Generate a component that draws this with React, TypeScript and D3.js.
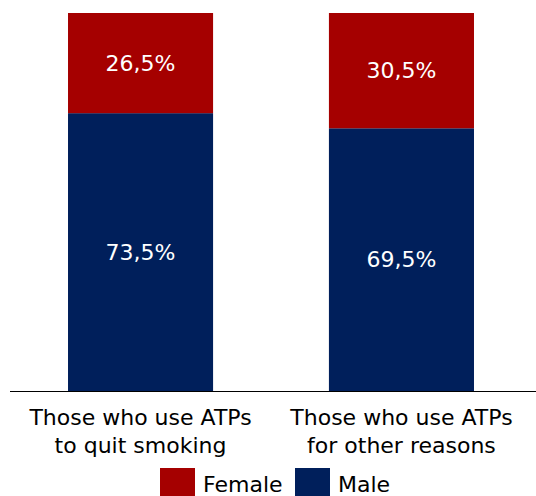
import * as d3 from 'd3'
import * as React from 'react'

// Chart data
const categories: string[][] = [
  ['Those who use ATPs', 'to quit smoking'],
  ['Those who use ATPs', 'for other reasons'],
]
const maleValues: number[] = [73.5, 69.5]
const femaleValues: number[] = [26.5, 30.5]
const seriesNames: string[] = ['Female', 'Male']
const seriesColors: string[] = ['#A50000', '#001F5B']

const width = 536
const height = 496
const fontFamily = '"DejaVu Sans", Verdana, sans-serif'
const fmt = (v: number) => d3.format('.1f')(v).replace('.', ',') + '%'

export default function App() {
  const x = d3.scaleBand<number>()
    .domain(d3.range(categories.length))
    .range([8, 534])
    .paddingInner(0.444)
    .paddingOuter(0.23)
  const y = d3.scaleLinear().domain([0, 100]).range([391, 13])

  const rows = categories.map((c, i) => ({
    label: c,
    male: maleValues[i],
    female: femaleValues[i],
  }))

  return (
    <svg width={width} height={height}
      style={{ position: 'absolute', left: 0, top: 0, fontFamily }}>
      {rows.map((d, i) => {
        const x0 = x(i)!
        const bw = x.bandwidth()
        const cx = x0 + bw / 2
        const maleTop = y(d.male)
        const femTop = y(d.male + d.female)
        return (
          <g key={i}>
            <rect x={x0} y={maleTop} width={bw} height={y(0) - maleTop} fill={seriesColors[1]} />
            <rect x={x0} y={femTop} width={bw} height={maleTop - femTop} fill={seriesColors[0]} />
            <text x={cx} y={(maleTop + y(0)) / 2} dy="0.35em" textAnchor="middle"
              fill="#fff" fontSize={22}>{fmt(d.male)}</text>
            <text x={cx} y={(femTop + maleTop) / 2} dy="0.35em" textAnchor="middle"
              fill="#fff" fontSize={22}>{fmt(d.female)}</text>
            {d.label.map((line, j) => (
              <text key={j} x={cx} y={425 + j * 28} textAnchor="middle"
                fill="#000" fontSize={22}>{line}</text>
            ))}
          </g>
        )
      })}
      <line x1={10} x2={536} y1={y(0) + 0.5} y2={y(0) + 0.5} stroke="#000" strokeWidth={1} />
      {/* Legend */}
      {seriesNames.map((name, i) => {
        const lx = i === 0 ? 160 : 295
        return (
          <g key={name}>
            <rect x={lx} y={468} width={35} height={28} fill={seriesColors[i]} />
            <text x={lx + 43} y={492} fill="#000" fontSize={22}>{name}</text>
          </g>
        )
      })}
    </svg>
  )
}
